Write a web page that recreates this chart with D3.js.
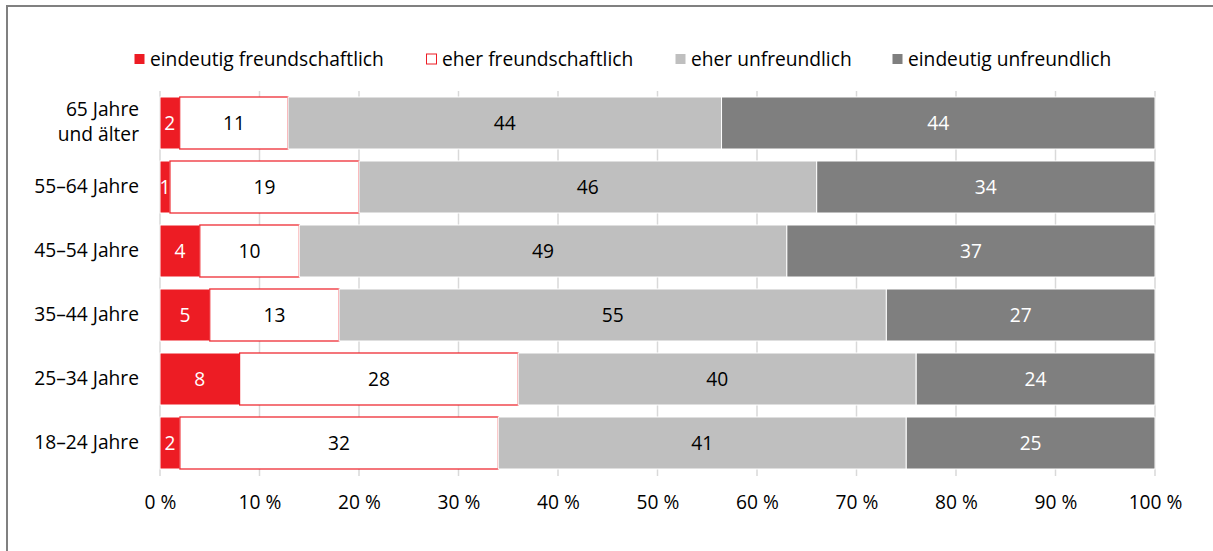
<!DOCTYPE html>
<html>
<head>
<meta charset="utf-8">
<script src="https://cdn.jsdelivr.net/npm/d3@7"></script>
<style>
  body { margin: 0; background: #fff; }
  svg { display: block; font-family: "Open Sans", sans-serif; }
</style>
</head>
<body>
<svg id="chart" width="1213" height="551"></svg>
<script>
// Altersgruppen (von oben nach unten)
var groups = ["65 Jahre\nund älter", "55–64 Jahre", "45–54 Jahre", "35–44 Jahre", "25–34 Jahre", "18–24 Jahre"];
var seriesNames = ["eindeutig freundschaftlich", "eher freundschaftlich", "eher unfreundlich", "eindeutig unfreundlich"];

var eindeutigFreund = [2, 1, 4, 5, 8, 2];
var eherFreund = [11, 19, 10, 13, 28, 32];
var eherUnfreund = [44, 46, 49, 55, 40, 41];
var eindeutigUnfreund = [44, 34, 37, 27, 24, 25];

var tickValues = [0, 10, 20, 30, 40, 50, 60, 70, 80, 90, 100];

var fills = ["#ED1C24", "#ffffff", "#BFBFBF", "#7F7F7F"];
var strokes = ["#ffffff", "#ED1C24", "#ffffff", "#ffffff"];
var textColors = ["#ffffff", "#000000", "#000000", "#ffffff"];
var fs = 19.2;
var lineGap = 25;

var svg = d3.select("#chart");

// Rahmen
svg.append("path")
    .attr("d", "M7,551 L7,6 L1213,6")
    .attr("fill", "none")
    .attr("stroke", "#808080")
    .attr("stroke-width", 2);

var x = d3.scaleLinear().domain([0, 100]).range([160, 1155]);
var y = d3.scaleBand().domain(groups).range([91, 475]).paddingInner(0.1875).paddingOuter(0.09375);

// Gitterlinien
svg.append("g").selectAll("line")
    .data(tickValues)
    .enter()
    .append("line")
    .attr("x1", function(d) { return x(d); })
    .attr("x2", function(d) { return x(d); })
    .attr("y1", 91)
    .attr("y2", 476)
    .attr("stroke", "#D9D9D9")
    .attr("stroke-width", 1.5);

// Achsenbeschriftung
var xAxis = d3.axisBottom(x).tickValues(tickValues).tickSize(0).tickPadding(0)
    .tickFormat(function(d) { return d + " %"; });
var gx = svg.append("g").attr("transform", "translate(0,509)").call(xAxis);
gx.select(".domain").remove();
gx.selectAll("text")
    .attr("y", 0)
    .attr("dy", 0)
    .attr("font-size", fs)
    .attr("font-family", "Open Sans, sans-serif")
    .attr("fill", "#000");

// Stapel
var rows = groups.map(function(g, i) {
    var vals = [eindeutigFreund[i], eherFreund[i], eherUnfreund[i], eindeutigUnfreund[i]];
    var total = d3.sum(vals);
    var acc = 0;
    return vals.map(function(v, k) {
        var seg = {group: g, k: k, value: v, x0: acc / total * 100, x1: (acc + v) / total * 100};
        acc += v;
        return seg;
    });
});
var segs = d3.merge(rows);

var bars = svg.append("g");
bars.selectAll("rect")
    .data(segs)
    .enter()
    .append("rect")
    .attr("x", function(d) { return x(d.x0); })
    .attr("y", function(d) { return y(d.group); })
    .attr("width", function(d) { return x(d.x1) - x(d.x0); })
    .attr("height", y.bandwidth())
    .attr("fill", function(d) { return fills[d.k]; })
    .attr("stroke", function(d) { return strokes[d.k]; })
    .attr("stroke-width", function(d) { return d.k == 1 ? 1.2 : 1; });

bars.selectAll("text")
    .data(segs)
    .enter()
    .append("text")
    .attr("x", function(d) { return (x(d.x0) + x(d.x1)) / 2; })
    .attr("y", function(d) { return y(d.group) + y.bandwidth() / 2 + 7; })
    .attr("text-anchor", "middle")
    .attr("font-size", fs)
    .attr("fill", function(d) { return textColors[d.k]; })
    .text(function(d) { return d.value; });

// Kategorien (zweizeilig als eigene Texte)
var ylines = [];
groups.forEach(function(g) {
    var parts = g.split("\n");
    parts.forEach(function(p, j) {
        ylines.push({group: g, text: p, offset: (j - (parts.length - 1) / 2) * lineGap});
    });
});
svg.append("g").selectAll("text")
    .data(ylines)
    .enter()
    .append("text")
    .attr("text-anchor", "end")
    .attr("font-size", fs)
    .attr("fill", "#000")
    .attr("x", 139)
    .attr("y", function(d) { return y(d.group) + y.bandwidth() / 2 + 7 + d.offset - 1.5; })
    .text(function(d) { return d.text; });

// Legende
var legendX = [134, 426, 675, 892];
var legend = svg.append("g").selectAll("g")
    .data(seriesNames)
    .enter()
    .append("g")
    .attr("transform", function(d, i) { return "translate(" + legendX[i] + ",0)"; });
legend.append("rect")
    .attr("x", 0.5)
    .attr("y", 54)
    .attr("width", 10)
    .attr("height", 10)
    .attr("fill", function(d, i) { return fills[i]; })
    .attr("stroke", function(d, i) { return i == 1 ? "#ED1C24" : "none"; });
legend.append("text")
    .attr("x", 16)
    .attr("y", 66)
    .attr("font-size", fs)
    .attr("fill", "#000")
    .text(function(d) { return d; });
</script>
</body>
</html>
